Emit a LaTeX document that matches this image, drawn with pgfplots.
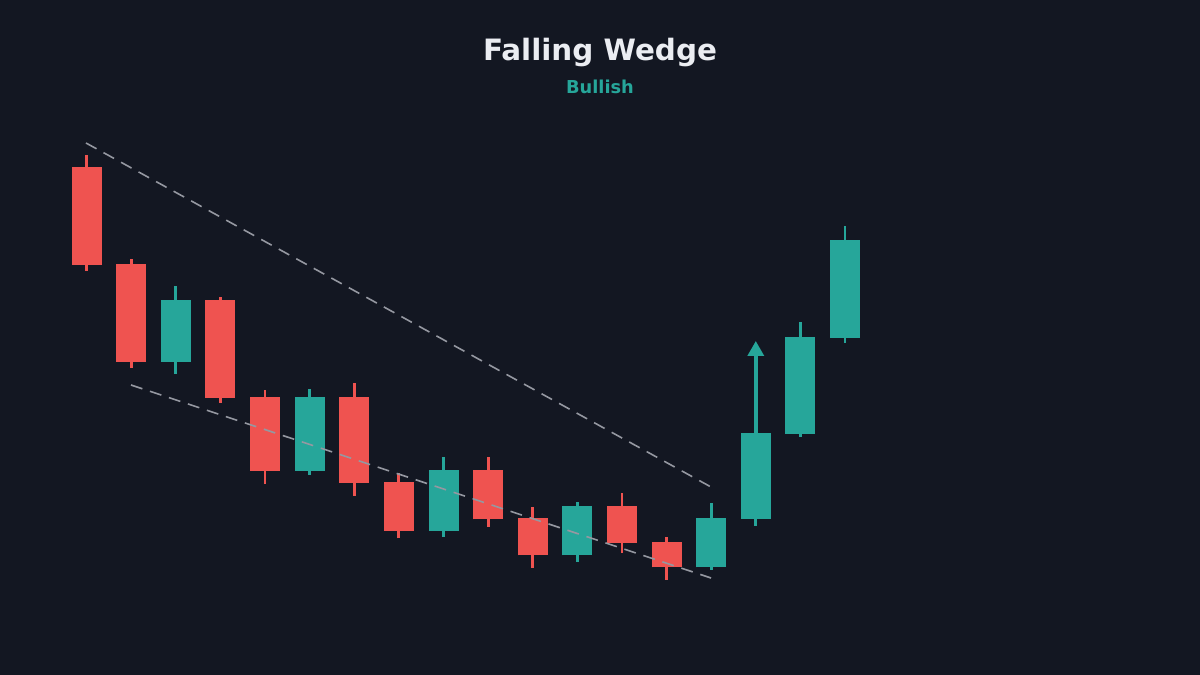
\documentclass[border=0pt]{standalone}
\usepackage{pgfplots}
\pgfplotsset{compat=1.18}
\usepackage{pgfplotstable}
\usepackage{fontspec}
\setmainfont{DejaVu Sans}
\usetikzlibrary{arrows.meta}

\definecolor{bg}{HTML}{131722}
\definecolor{up}{HTML}{26A69A}
\definecolor{down}{HTML}{EF5350}
\definecolor{trend}{HTML}{9598A1}
\definecolor{titlecol}{HTML}{EBEDF2}

% x open high low close (x in slot units of the canvas)
\pgfplotstableread{
x     open  high  low   close
86.5  508.3 520.0 404.3 410.0
131.1 411.3 416.0 307.0 313.0
175.7 313.0 389.3 301.0 375.3
220.4 375.3 378.3 272.3 277.0
265.0 278.3 285.0 191.0 204.0
309.6 204.0 286.3 200.0 278.3
354.2 278.3 292.3 179.0 192.3
398.8 193.3 201.7 136.7 144.0
443.5 144.0 218.3 138.0 205.3
488.1 205.3 218.3 148.0 155.7
532.7 157.3 168.3 107.0 119.7
577.3 119.7 173.3 113.0 169.3
622.0 169.3 182.3 122.0 131.7
666.6 133.3 138.3  95.0 107.7
711.2 107.7 172.3 105.0 157.3
755.8 156.0 242.0 149.0 242.0
800.4 241.0 353.0 238.0 338.3
845.0 337.0 449.3 332.3 435.3
}\candles

\pgfplotsset{
    candle/.style 2 args={draw=none, mark=none, forget plot,
        error bars/.cd, y dir=plus, y explicit, error mark=none,
        error bar style={draw=#1, line width=#2}},
}

\begin{document}
\begin{tikzpicture}
\begin{axis}[
    scale only axis,
    width=600pt, height=337.5pt,
    xmin=0, xmax=1200, ymin=0, ymax=675,
    ticks=none,
    axis line style={draw=none},
    axis background/.style={fill=bg},
    clip=false,
]
% wicks
\addplot[restrict expr to domain={\thisrow{close}-\thisrow{open}}{-10000:0},
    candle={down}{1.4pt}]
    table[x=x, y=low, y error expr=\thisrow{high}-\thisrow{low}] {\candles};
\addplot[restrict expr to domain={\thisrow{close}-\thisrow{open}}{0:10000},
    candle={up}{1.4pt}]
    table[x=x, y=low, y error expr=\thisrow{high}-\thisrow{low}] {\candles};
% bodies
\addplot[restrict expr to domain={\thisrow{close}-\thisrow{open}}{-10000:0},
    candle={down}{15pt}]
    table[x=x, y=close, y error expr=\thisrow{open}-\thisrow{close}] {\candles};
\addplot[restrict expr to domain={\thisrow{close}-\thisrow{open}}{0:10000},
    candle={up}{15pt}]
    table[x=x, y=open, y error expr=\thisrow{close}-\thisrow{open}] {\candles};
% wedge lines
\addplot[trend, line width=0.8pt, dash pattern=on 6pt off 4pt]
    coordinates {(86,532) (711,188)};
\addplot[trend, line width=0.8pt, dash pattern=on 6pt off 4pt]
    coordinates {(131,290) (711,97)};
% breakout arrow
\addplot[up, line width=1.7pt, -{Triangle[width=8pt,length=7.5pt]}]
    coordinates {(755.8,242) (755.8,334)};
% titles
\node[anchor=base, text=titlecol, font=\bfseries\fontsize{14.7pt}{17pt}\selectfont]
    at (axis cs:600,614.3) {Falling Wedge};
\node[anchor=base, text=up, font=\bfseries\fontsize{8.9pt}{11pt}\selectfont]
    at (axis cs:600,581) {Bullish};
\end{axis}
\end{tikzpicture}
\end{document}
